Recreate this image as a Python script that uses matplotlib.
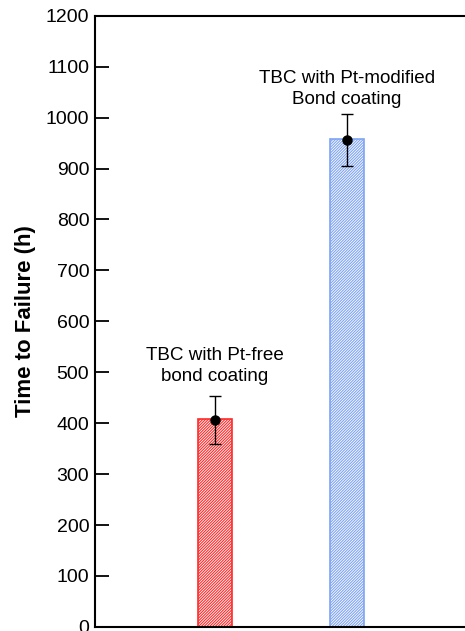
import matplotlib.pyplot as plt

plt.rcParams["font.family"] = ["Liberation Sans", "DejaVu Sans"]
plt.rcParams["hatch.linewidth"] = 0.8

# bar data
positions = [1, 2]
times = [409, 959]
means = [406, 956]
errors = [47, 51]
colors = ["#ff2a2a", "#7ea4f2"]
labels = ["TBC with Pt-free\nbond coating", "TBC with Pt-modified\nBond coating"]
label_heights = [475, 1019]
yticks = list(range(0, 1201, 100))


def main() -> None:
    fig = plt.figure(figsize=(4.65, 6.31), dpi=100)
    ax = fig.add_axes([0.204, 0.0065, 0.796, 0.9685])

    for x, t, c in zip(positions, times, colors):
        ax.bar(x, t, width=0.26, facecolor="white", edgecolor=c,
               hatch="/" * 12, linewidth=1.2, zorder=2)

    ax.errorbar(positions, means, yerr=errors, fmt="o", color="black",
                markersize=6.5, elinewidth=1.0, capsize=4.5, capthick=1.0,
                zorder=3)

    for x, y, s in zip(positions, label_heights, labels):
        ax.text(x, y, s, ha="center", va="bottom", fontsize=13.6,
                linespacing=1.3)

    ax.set_xlim(0.09, 2.894)
    ax.set_ylim(0, 1200)
    ax.set_yticks(yticks)
    ax.set_xticks([])
    ax.tick_params(axis="y", direction="in", length=10, width=1.3,
                   labelsize=14, pad=4)
    ax.spines["right"].set_visible(False)
    for side in ["left", "top", "bottom"]:
        ax.spines[side].set_linewidth(1.5)
    ax.set_ylabel("Time to Failure (h)", fontsize=16, fontweight="bold",
                  labelpad=7)

    fig.savefig("out.png", dpi=100)


if __name__ == "__main__":
    main()
